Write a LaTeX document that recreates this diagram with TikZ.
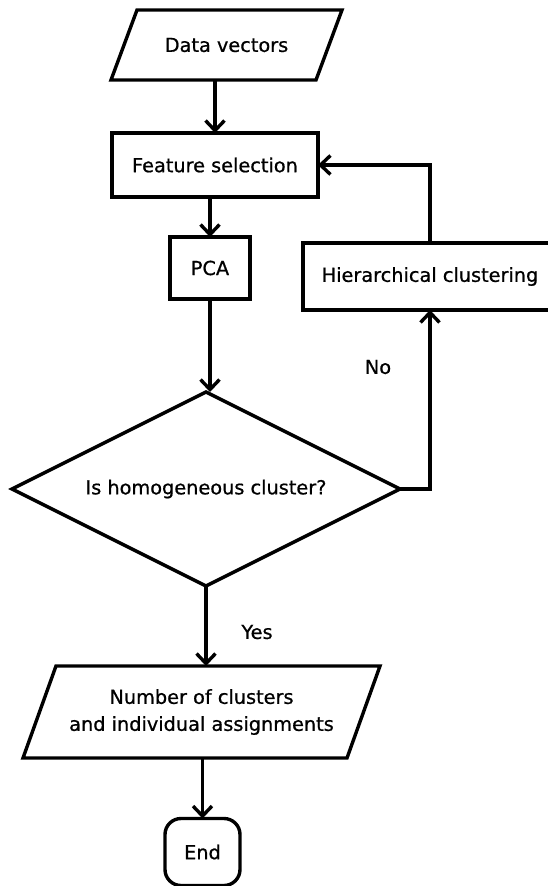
\documentclass[tikz,border=0pt]{standalone}
\usepackage{fontspec}
\setmainfont{DejaVu Sans}[FakeBold=0.8]
\usetikzlibrary{arrows.meta,shapes.geometric}

\begin{document}
\begin{tikzpicture}[x=1pt,y=-1pt,line width=3.4pt,
  font=\fontsize{19.3}{27}\selectfont,
  box/.style={draw,rectangle,inner sep=0pt,outer sep=0pt,align=center},
  frame/.style={rectangle,inner sep=0pt,outer sep=0pt,align=center},
  decision/.style={draw,diamond,inner sep=0pt,outer sep=0pt,aspect=2},
  terminal/.style={draw,rectangle,rounded corners=16pt,inner sep=0pt,outer sep=0pt},
  arr/.style={-{Straight Barb[length=10pt,width=19pt,line width=3.4pt]}},
  lbl/.style={inner sep=0pt}]
\useasboundingbox (0,0) rectangle (548,886);

% input parallelogram
\node[frame,minimum width=205pt,minimum height=70pt] (dv) at (226.5,45) {Data vectors};
\draw ([xshift=13pt]dv.north west) -- ([xshift=13pt]dv.north east)
  -- ([xshift=-13pt]dv.south east) -- ([xshift=-13pt]dv.south west) -- cycle;

\node[box,minimum width=206pt,minimum height=64pt] (fs) at (215,165) {Feature selection};
\node[box,minimum width=80pt,minimum height=62pt] (pca) at (210,268) {PCA};
\node[decision,minimum width=388pt,minimum height=194pt] (dm) at (206,489) {Is homogeneous cluster?};
\node[box,minimum width=254pt,minimum height=67pt] (hc) at (430,276.5) {Hierarchical clustering};

% output parallelogram
\node[frame,minimum width=324pt,minimum height=92pt] (out) at (201.5,712)
  {Number of clusters\\and individual assignments};
\draw ([xshift=16.5pt]out.north west) -- ([xshift=16.5pt]out.north east)
  -- ([xshift=-16.5pt]out.south east) -- ([xshift=-16.5pt]out.south west) -- cycle;

\node[terminal,minimum width=75pt,minimum height=67pt] (end) at (202.5,852) {End};

% connectors
\draw[arr] (dv.south -| fs.north) -- (fs.north);
\draw[arr] (fs.south -| pca.north) -- (pca.north);
\draw[arr] (pca.south) -- (pca.south |- dm.north);
\draw[arr] (dm.east) -- (dm.east -| hc.south) -- (hc.south);
\draw[arr] (hc.north) |- (fs.east);
\draw[arr] (dm.south) -- (dm.south |- out.north);
\draw[arr] (out.south -| end.north) -- (end.north);

\node[lbl] (no) at (378,367) {No};
\node[lbl] (yes) at (257,632) {Yes};
\end{tikzpicture}
\end{document}
